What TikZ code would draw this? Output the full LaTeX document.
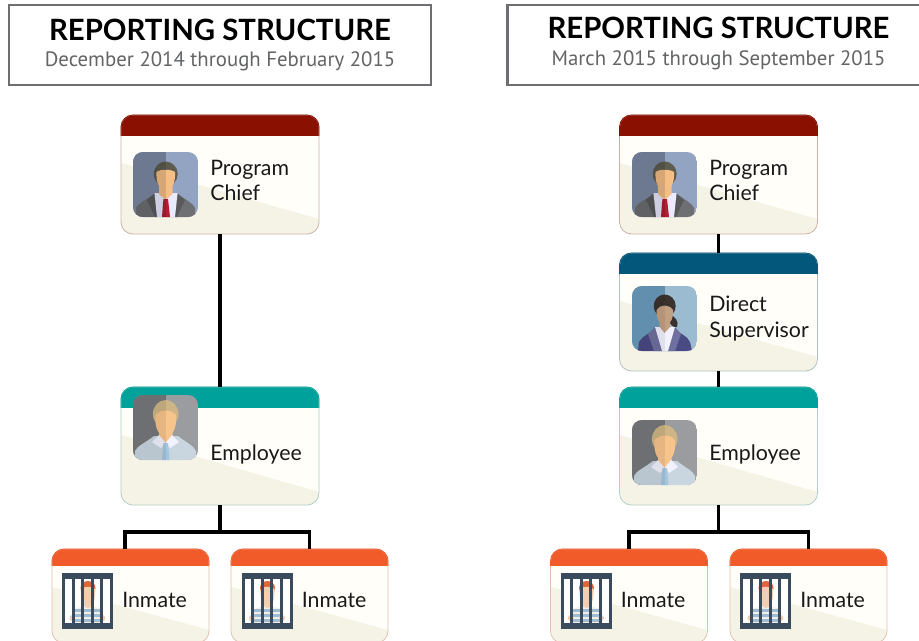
\documentclass[tikz,border=0pt]{standalone}
\usepackage{fontspec}
\setmainfont{Lato}
\newfontfamily\subfont{PT Sans}

\definecolor{chiefred}{HTML}{8A1002}
\definecolor{superblue}{HTML}{03577B}
\definecolor{emplteal}{HTML}{00A19A}
\definecolor{inmorange}{HTML}{F15A29}
\definecolor{cardbg}{HTML}{FFFEF8}
\definecolor{cardband}{HTML}{F5F3E6}
\definecolor{framegray}{HTML}{6D6E71}
\definecolor{subgray}{HTML}{636466}
\definecolor{bardark}{HTML}{3A4B5E}
\definecolor{chiefbgA}{HTML}{7B8AA5}
\definecolor{chiefbgB}{HTML}{92A4C2}
\definecolor{chiefsuit}{HTML}{6E6F72}
\definecolor{chieflapel}{HTML}{58595B}
\definecolor{chiefskin}{HTML}{F4BE85}
\definecolor{chieftie}{HTML}{B01E32}
\definecolor{chiefhair}{HTML}{5E5B4F}
\definecolor{emplbgA}{HTML}{77787B}
\definecolor{emplbgB}{HTML}{9B9C9F}
\definecolor{emplshirt}{HTML}{C9D6DF}
\definecolor{emplskin}{HTML}{F7C48C}
\definecolor{empltie}{HTML}{A3C6E0}
\definecolor{emplhair}{HTML}{CDB585}
\definecolor{superbgA}{HTML}{6A9ABB}
\definecolor{superbgB}{HTML}{9ABBD0}
\definecolor{superhair}{HTML}{3A322E}
\definecolor{supersuit}{HTML}{4A4A85}
\definecolor{superlapel}{HTML}{6F6FA0}
\definecolor{superskin}{HTML}{C2A183}
\definecolor{inmshirt}{HTML}{F2EFE6}
\definecolor{inmstripe}{HTML}{9DBBD2}
\definecolor{inmskin}{HTML}{F2CFB2}
\definecolor{inmhair}{HTML}{E0653A}

\tikzset{
  titlebox/.style={draw=framegray, line width=2.2pt, fill=white, minimum width=316.5pt, minimum height=60pt, outer sep=0pt},
  titletext/.style={font=\bfseries\fontsize{22}{24}\selectfont, anchor=base, text=black, inner sep=0pt},
  subtext/.style={font=\subfont\fontsize{15.6}{18}\selectfont, anchor=base, text=subgray, inner sep=0pt},
  cardtext/.style={font=\fontsize{16}{19.3}\selectfont, anchor=west, align=left, inner sep=0pt, text=black!90},
  orgbox/.style={rounded corners=9pt, fill=cardbg, outer sep=0pt, inner sep=0pt},
  wire/.style={line width=2.4pt, black, line join=miter},
}

% card: name, centre x, top y, width, height, head colour, head height, band y left, band y right
\newcommand{\orgcard}[9]{
  \node[orgbox, minimum width=#4*0.75pt, minimum height=#5*0.75pt] (#1) at (#2,{#3+#5/2}) {};
  \begin{scope}
    \clip[rounded corners=9pt] (#1.north west) rectangle (#1.south east);
    \fill[cardband] (#1.west |- 0,#8) -- (#1.east |- 0,#9) -- (#1.south east) -- (#1.south west) -- cycle;
    \fill[#6] (#1.north west) rectangle (#1.east |- 0,{#3+#7});
  \end{scope}
  \draw[#6!25!cardband!85!gray, line width=0.6pt, rounded corners=9pt] (#1.north west) rectangle (#1.south east);
  \draw[#6, line width=0.6pt, rounded corners=9pt] (#1.east |- 0,{#3+#7}) -- (#1.north east) -- (#1.north west) -- (#1.west |- 0,{#3+#7});
}

% rounded square of the photos, left and right tone
\newcommand{\iconback}[2]{
  \clip[rounded corners=7.5pt] (0,0) rectangle (65,65);
  \fill[#2] (0,0) rectangle (65,65);
  \fill[#1] (0,0) rectangle (32.7,65);
}

\newcommand{\chieficon}[2]{
  \begin{scope}[shift={(#1,#2)}]
    \iconback{chiefbgA}{chiefbgB}
    % body
    \fill[chiefsuit] (3,65) -- (3,56) .. controls (5,51) and (12,49) .. (21,42) -- (45,42) .. controls (54,49) and (60,51) .. (62,56) -- (62,65) -- cycle;
    \fill[chieflapel] (21,42) -- (14,48) -- (17,54) -- (22,65) -- (24,65) -- cycle;
    \fill[chieflapel] (45,42) -- (52,48) -- (49,54) -- (44,65) -- (42,65) -- cycle;
    \fill[white!92!blue] (21.5,41) -- (24,65) -- (42,65) -- (44.5,41) -- cycle;
    \fill[chiefskin] (26,30) -- (39.5,30) -- (39.5,42) -- (32.7,48) -- (26,42) -- cycle;
    \fill[chieftie] (30.5,47) -- (35,47) -- (35.5,51) -- (37,65) -- (29,65) -- (30,51) -- cycle;
    % head
    \fill[chiefhair] (32.7,22) ellipse (12 and 12.5);
    \fill[chiefskin] (23.5,20) .. controls (27,17) and (38,17) .. (42,20) .. controls (42.5,30) and (40,37.5) .. (32.7,37.5) .. controls (25.5,37.5) and (23,30) .. (23.5,20) -- cycle;
    \fill[black, opacity=0.12] (0,0) rectangle (32.7,65);
  \end{scope}
}

\newcommand{\employeeicon}[2]{
  \begin{scope}[shift={(#1,#2)}]
    \iconback{emplbgA}{emplbgB}
    % body
    \fill[emplshirt] (2,65) -- (2,56) .. controls (4,51) and (12,48) .. (21,41) -- (45,41) .. controls (54,48) and (61,51) .. (63,56) -- (63,65) -- cycle;
    \fill[emplskin] (26,30) -- (39.5,30) -- (39.5,43) -- (32.7,49) -- (26,43) -- cycle;
    \fill[white!95!blue] (19,47) -- (26,40) -- (32.7,48) -- (28,53) -- cycle;
    \fill[white!95!blue] (46,47) -- (39,40) -- (32.7,48) -- (37,53) -- cycle;
    \fill[empltie] (30.5,48) -- (35,48) -- (35.5,52) -- (36.5,65) -- (29,65) -- (30,52) -- cycle;
    % head
    \fill[emplhair] (32.7,19) ellipse (12.8 and 14);
    \fill[emplskin] (22.5,20) .. controls (28,14) and (38,14) .. (43,20) .. controls (44,33) and (40,41) .. (32.7,41) .. controls (25.5,41) and (21.5,33) .. (22.5,20) -- cycle;
    \fill[black, opacity=0.07] (0,0) rectangle (32.7,65);
  \end{scope}
}

\newcommand{\supervisoricon}[2]{
  \begin{scope}[shift={(#1,#2)}]
    \iconback{superbgA}{superbgB}
    % hair
    \fill[superhair] (32.7,20) ellipse (11 and 11.5);
    \fill[superhair] (36,28) .. controls (44,30) and (47,36) .. (45,41) .. controls (41,42) and (38,38) .. (36,34) -- cycle;
    % body
    \fill[supersuit] (6,65) -- (7,56) .. controls (10,50) and (18,48) .. (24,41) -- (42,41) .. controls (47,48) and (56,50) .. (58,56) -- (60,65) -- cycle;
    \fill[superlapel] (23,41) -- (16,48) -- (22,65) -- (30,65) -- cycle;
    \fill[superlapel] (43,41) -- (49,48) -- (43,65) -- (35,65) -- cycle;
    \fill[white!95!blue] (23,41) -- (30,65) -- (36,65) -- (43,41) -- cycle;
    \fill[superskin] (27.5,30) -- (38,30) -- (38,41) -- (32.7,47) -- (27.5,41) -- cycle;
    % face
    \fill[superskin] (24.5,24) .. controls (28,18) and (37,18) .. (41,24) .. controls (41.5,33) and (38,39) .. (32.7,39) .. controls (27.5,39) and (24,33) .. (24.5,24) -- cycle;
    \fill[black, opacity=0.07] (0,0) rectangle (32.7,65);
  \end{scope}
}

\newcommand{\inmateicon}[2]{
  \begin{scope}[shift={(#1,#2)}]
    \fill[white] (0,0) rectangle (51,56);
    % man behind the bars
    \fill[inmshirt] (12,50.5) -- (13,36) .. controls (17,33) and (35,33) .. (39,36) -- (40,50.5) -- cycle;
    \foreach \ystripe in {36,41,46}
      \fill[inmstripe] (12.5,\ystripe) rectangle (39.5,{\ystripe+2.5});
    \fill[inmskin] (10.3,45) circle (3);
    \fill[inmskin] (40.5,45) circle (3);
    \fill[inmhair] (26,15) ellipse (7.5 and 7);
    \fill[inmskin] (19,16) .. controls (22,13) and (30,13) .. (33,16) .. controls (33.5,26) and (31,35) .. (26,35) .. controls (21,35) and (18.5,26) .. (19,16) -- cycle;
    % bars
    \foreach \xbar in {0,9.6,19.2,28.8,38.4,48}
      \fill[bardark] (\xbar,0) rectangle ({\xbar+3},56);
    \fill[bardark] (0,0) rectangle (51,5.7);
    \fill[bardark] (0,50.3) rectangle (51,56);
  \end{scope}
}

\begin{document}
\begin{tikzpicture}[x=0.75pt, y=-0.75pt]
  \useasboundingbox (0,0) rectangle (919,640);
  \clip (0,0) rectangle (919,640);

  \begin{scope}[shift={(0,0)}]
    % Draw the heading
    \node[titlebox] (headL) at (220,45) {};
    \node[titletext] (titleL) at (220,40.7) {REPORTING STRUCTURE};
    \node[subtext] (subL) at (220,66) {December 2014 through February 2015};

    % Draw the cards
    \orgcard{chiefL}{220}{115}{198}{119}{chiefred}{21}{163}{219}
    \orgcard{emplL}{220}{387}{198}{118}{emplteal}{21}{435}{492}
    \orgcard{inmAL}{130.5}{549}{157}{94}{inmorange}{17}{587}{630}
    \orgcard{inmBL}{309.5}{549}{157}{94}{inmorange}{17}{587}{630}

    % Draw the photos
    \chieficon{133}{152}
    \employeeicon{133}{395}
    \inmateicon{62}{573}
    \inmateicon{241.5}{573}

    % Draw the labels
    \node[cardtext] (chiefnameL) at (210,180.5) {Program\\Chief};
    \node[cardtext] (emplnameL) at (210,454.5) {Employee};
    \node[cardtext] (inmAnameL) at (122,599.5) {Inmate};
    \node[cardtext] (inmBnameL) at (301.5,599.5) {Inmate};

    % Draw the connectors
    \coordinate (busL) at (220,532);
    \coordinate (dropAL) at (125,549);
    \draw[wire] (chiefL.south) -- (emplL.north);
    \draw[wire] (emplL.south) -- (busL);
    \draw[wire] (dropAL) |- (busL);
    \draw[wire] (inmBL.north) |- (busL);
  \end{scope}

  \begin{scope}[shift={(498.5,0)}]
    % Draw the heading
    \node[titlebox] (headR) at (220,45) {};
    \node[titletext] (titleR) at (220,38.7) {REPORTING STRUCTURE};
    \node[subtext] (subR) at (220,65.3) {March 2015 through September 2015};

    % Draw the cards
    \orgcard{chiefR}{220}{115}{198}{119}{chiefred}{21}{163}{219}
    \orgcard{superR}{220}{253}{198}{118}{superblue}{21}{301}{357}
    \orgcard{emplR}{220}{387}{198}{118}{emplteal}{21}{435}{492}
    \orgcard{inmAR}{130.5}{549}{157}{94}{inmorange}{17}{587}{630}
    \orgcard{inmBR}{310}{549}{157}{94}{inmorange}{17}{587}{630}

    % Draw the photos
    \chieficon{133.5}{152}
    \supervisoricon{133.5}{286}
    \employeeicon{133.5}{420}
    \inmateicon{62}{573}
    \inmateicon{241.5}{573}

    % Draw the labels
    \node[cardtext] (chiefnameR) at (210.5,180.5) {Program\\Chief};
    \node[cardtext] (supernameR) at (210.5,318.5) {Direct\\Supervisor};
    \node[cardtext] (emplnameR) at (210.5,454.5) {Employee};
    \node[cardtext] (inmAnameR) at (122,599.5) {Inmate};
    \node[cardtext] (inmBnameR) at (301.5,599.5) {Inmate};

    % Draw the connectors
    \coordinate (busR) at (220,532);
    \draw[wire] (chiefR.south) -- (superR.north);
    \draw[wire] (superR.south) -- (emplR.north);
    \draw[wire] (emplR.south) -- (busR);
    \draw[wire] (inmAR.north) |- (busR);
    \draw[wire] (inmBR.north) |- (busR);
  \end{scope}
\end{tikzpicture}
\end{document}
